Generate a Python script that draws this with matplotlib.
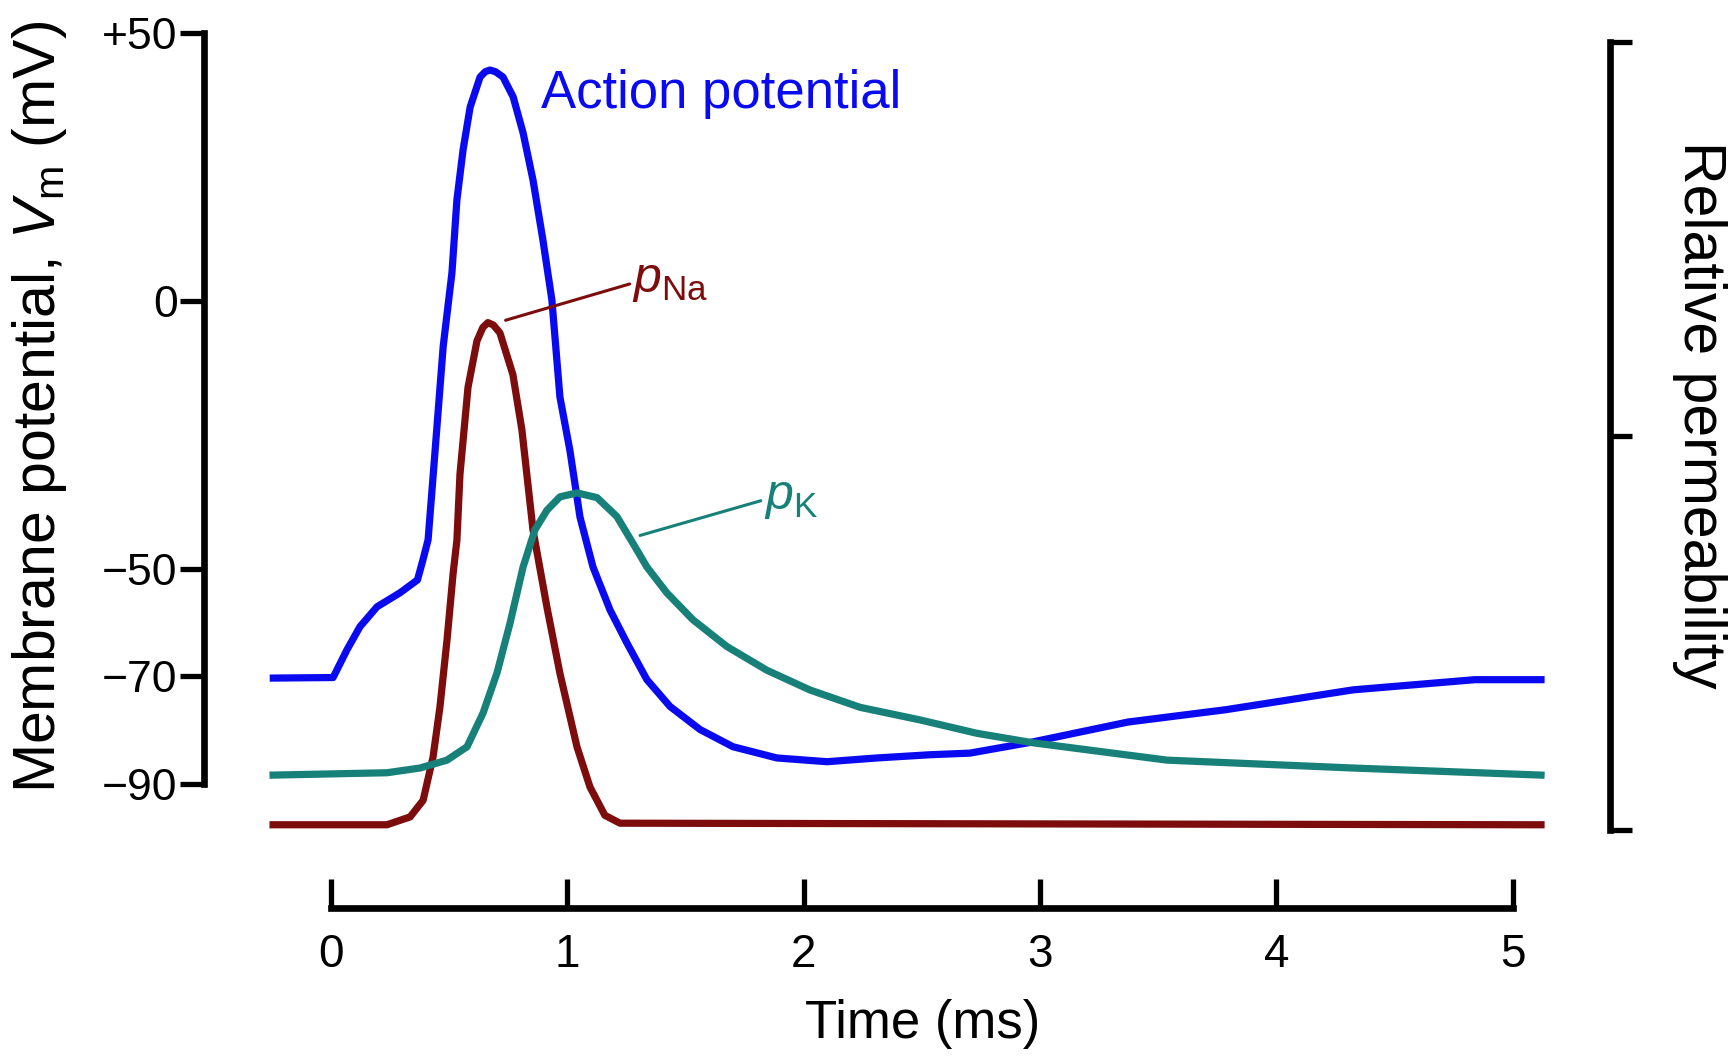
import matplotlib
matplotlib.use('Agg')
import matplotlib.pyplot as plt

plt.rcParams['font.family'] = ['Liberation Sans', 'DejaVu Sans']
plt.rcParams['mathtext.fontset'] = 'custom'
plt.rcParams['mathtext.rm'] = 'Liberation Sans'
plt.rcParams['mathtext.it'] = 'Liberation Sans:italic'

# membrane potential (ms, mV)
t_ap = [-0.245, 0.008, 0.067, 0.122, 0.194, 0.291, 0.365, 0.388, 0.41, 0.432,
        0.474, 0.511, 0.532, 0.558, 0.588, 0.63, 0.652, 0.672, 0.695, 0.727,
        0.77, 0.812, 0.854, 0.896, 0.934, 0.968, 1.01, 1.053, 1.108, 1.18,
        1.252, 1.336, 1.434, 1.561, 1.7, 1.886, 2.098, 2.31, 2.534, 2.703,
        2.97, 3.372, 3.786, 4.324, 4.84, 5.12]
v_ap = [-70.3, -70.2, -65.0, -60.7, -57.0, -54.4, -52.0, -48.3, -44.5, -32.2,
        -8.4, 5.3, 18.9, 28.2, 36.2, 41.8, 42.8, 43.1, 42.8, 41.8,
        38.1, 31.4, 22.6, 11.4, 0.2, -17.9, -27.8, -40.3, -49.6, -57.6,
        -63.8, -70.6, -75.6, -79.9, -83.1, -85.2, -85.9, -85.2, -84.6, -84.3,
        -82.2, -78.5, -76.2, -72.5, -70.6, -70.6]

# relative Na permeability
t_na = [-0.246, 0.236, 0.334, 0.389, 0.431, 0.46, 0.49, 0.516, 0.532, 0.545,
        0.579, 0.617, 0.642, 0.663, 0.686, 0.714, 0.769, 0.807, 0.854, 0.913,
        0.968, 1.04, 1.095, 1.158, 1.222, 5.12]
p_na = [0.007, 0.007, 0.017, 0.038, 0.093, 0.156, 0.241, 0.326, 0.368, 0.452,
        0.562, 0.621, 0.638, 0.644, 0.641, 0.631, 0.578, 0.508, 0.381, 0.283,
        0.199, 0.106, 0.055, 0.019, 0.009, 0.007]

# relative K permeability
t_k = [-0.246, 0.236, 0.376, 0.49, 0.575, 0.643, 0.702, 0.757, 0.812, 0.862,
       0.913, 0.968, 1.04, 1.125, 1.209, 1.277, 1.336, 1.421, 1.531, 1.675,
       1.844, 2.026, 2.238, 2.492, 2.733, 2.97, 3.537, 4.324, 5.12]
p_k = [0.070, 0.073, 0.079, 0.089, 0.106, 0.149, 0.200, 0.263, 0.334, 0.381,
       0.406, 0.423, 0.428, 0.422, 0.398, 0.364, 0.334, 0.301, 0.267, 0.233,
       0.203, 0.178, 0.156, 0.140, 0.123, 0.111, 0.089, 0.079, 0.070]

v_ticks = [50, 0, -50, -70, -90]
v_labels = ['+50', '0', '\u221250', '\u221270', '\u221290']
t_ticks = [0, 1, 2, 3, 4, 5]

blue = '#0a0af0'
red = '#7d0c0c'
teal = '#178079'

fig = plt.figure(figsize=(17.31, 10.57), dpi=100)
ax = fig.add_axes([0.1179, 0.1414, 0.8122, 0.8273])
ax.set_xlim(-0.538, 5.412)
ax.set_ylim(-113.1, 50)

ax.plot(t_ap, v_ap, color=blue, lw=5.2, solid_joinstyle='round', zorder=3)

for s in ('top', 'right'):
    ax.spines[s].set_visible(False)
ax.spines['left'].set_bounds(-90, 50)
ax.spines['bottom'].set_bounds(0, 5)
ax.spines['left'].set_linewidth(4.8)
ax.spines['bottom'].set_linewidth(4.8)
ax.set_yticks(v_ticks)
ax.set_yticklabels(v_labels)
ax.set_xticks(t_ticks)
ax.tick_params(axis='y', direction='out', length=17, width=3.8, pad=2, labelsize=32)
ax.tick_params(axis='x', direction='in', length=21, width=3.8, pad=18, labelsize=33)

ax.set_ylabel(r'Membrane potential, $V_{\mathrm{m}}$ (mV)', fontsize=42.5, va='center')
ax.yaxis.set_label_coords(-0.117, 0.573)
ax.set_xlabel('Time (ms)', fontsize=38, va='center')
ax.xaxis.set_label_coords(0.511, -0.133)

ax.text(0.888, 36, 'Action potential', color=blue, fontsize=38, va='baseline', ha='left')

ax2 = ax.twinx()
ax2.set_ylim(-0.098, 1.0113)
for s in ('top', 'left', 'bottom'):
    ax2.spines[s].set_visible(False)
ax2.spines['right'].set_bounds(0, 1)
ax2.spines['right'].set_linewidth(4.8)
ax2.set_yticks([0, 0.5, 1])
ax2.set_yticklabels([])
ax2.tick_params(axis='y', direction='out', length=16, width=3.8)
ax2.set_ylabel('Relative permeability', fontsize=42.5, rotation=-90, va='center')
ax2.yaxis.set_label_coords(1.064, 0.564)

ax2.plot(t_na, p_na, color=red, lw=5.2, solid_joinstyle='round', zorder=2)
ax2.plot(t_k, p_k, color=teal, lw=5.2, solid_joinstyle='round', zorder=2)

ax2.annotate(r'$p_{\mathrm{Na}}$', xy=(0.738, 0.647), xytext=(1.275, 0.697),
             color=red, fontsize=36, ha='left', va='center',
             arrowprops=dict(arrowstyle='-', color=red, lw=2.2,
                             shrinkA=0, shrinkB=0, relpos=(0, 0.45)))
ax2.annotate(r'$p_{\mathrm{K}}$', xy=(1.307, 0.374), xytext=(1.83, 0.422),
             color=teal, fontsize=36, ha='left', va='center',
             arrowprops=dict(arrowstyle='-', color=teal, lw=2.2,
                             shrinkA=0, shrinkB=0, relpos=(0, 0.45)))

fig.savefig('out.png', dpi=100)
